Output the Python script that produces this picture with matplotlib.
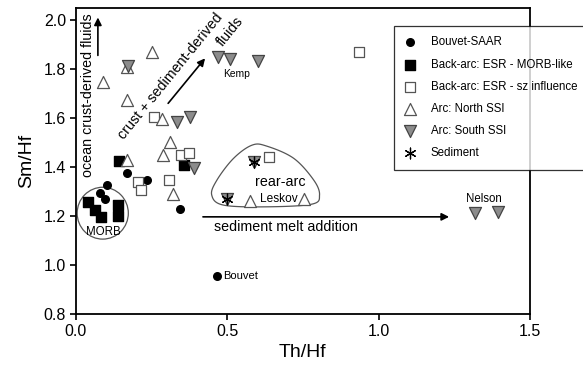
import numpy as np
import matplotlib
matplotlib.use("Agg")
import matplotlib.pyplot as plt
from matplotlib.patches import Ellipse, Polygon

plt.rcParams['font.family'] = ['Liberation Sans', 'DejaVu Sans']

## point data
bouvet_x = [0.170, 0.236, 0.102, 0.079, 0.096, 0.344, 0.468]
bouvet_y = [1.377, 1.347, 1.329, 1.293, 1.268, 1.229, 0.956]

morb_x = [0.143, 0.359, 0.041, 0.063, 0.082, 0.140, 0.140]
morb_y = [1.426, 1.408, 1.258, 1.224, 1.197, 1.245, 1.200]

sz_x = [0.937, 0.259, 0.206, 0.217, 0.308, 0.347, 0.374, 0.637]
sz_y = [1.871, 1.605, 1.340, 1.306, 1.347, 1.449, 1.458, 1.442]

north_x = [0.090, 0.168, 0.251, 0.168, 0.284, 0.311, 0.287, 0.170, 0.320, 0.574, 0.753]
north_y = [1.748, 1.810, 1.871, 1.673, 1.599, 1.501, 1.449, 1.431, 1.290, 1.261, 1.272]

south_x = [0.171, 0.471, 0.508, 0.602, 0.333, 0.377, 0.391, 0.587, 0.499, 1.319, 1.393]
south_y = [1.813, 1.850, 1.844, 1.834, 1.585, 1.605, 1.395, 1.422, 1.272, 1.211, 1.218]

sed_x = [0.587, 0.499]
sed_y = [1.422, 1.272]

x_ticks = [0.0, 0.5, 1.0, 1.5]
y_ticks = [0.8, 1.0, 1.2, 1.4, 1.6, 1.8, 2.0]

## outline of the rear-arc field
reararc_x = [0.582, 0.631, 0.720, 0.786, 0.805, 0.780, 0.631, 0.488, 0.449, 0.466, 0.521]
reararc_y = [1.490, 1.486, 1.436, 1.347, 1.286, 1.249, 1.238, 1.245, 1.286, 1.347, 1.436]


def closed_spline(xs, ys, n=25):
    # catmull-rom through the outline points, closed
    P = np.column_stack([xs, ys])
    k = len(P)
    out = []
    t = np.linspace(0, 1, n, endpoint=False)[:, None]
    for i in range(k):
        p0, p1, p2, p3 = P[i-1], P[i], P[(i+1) % k], P[(i+2) % k]
        out.append(0.5*((2*p1) + (-p0+p2)*t + (2*p0-5*p1+4*p2-p3)*t**2
                        + (-p0+3*p1-3*p2+p3)*t**3))
    return np.vstack(out)


fig = plt.figure(figsize=(5.83, 3.72), dpi=100)
ax = fig.add_axes([0.130, 0.156, 0.779, 0.822])

ax.scatter(bouvet_x, bouvet_y, s=30, marker='o', c='black', zorder=3, label='Bouvet-SAAR')
ax.scatter(morb_x, morb_y, s=60, marker='s', c='black', zorder=3, label='Back-arc: ESR - MORB-like')
ax.scatter(sz_x, sz_y, s=60, marker='s', facecolors='white', edgecolors='#555555',
           linewidths=0.9, zorder=3, label='Back-arc: ESR - sz influence')
ax.scatter(north_x, north_y, s=75, marker='^', facecolors='white', edgecolors='#555555',
           linewidths=0.9, zorder=3, label='Arc: North SSI')
ax.scatter(south_x, south_y, s=75, marker='v', facecolors='#8c8c8c', edgecolors='#444444',
           linewidths=0.9, zorder=3, label='Arc: South SSI')
ax.scatter(sed_x, sed_y, s=60, marker=(6, 2, 0), c='black', linewidths=0.9, zorder=4,
           label='Sediment')

# fields
ax.add_patch(Ellipse((0.089, 1.212), 0.169, 0.212, fill=False, ec='#555555', lw=0.9, zorder=2))
ra = closed_spline(reararc_x, reararc_y)
ax.add_patch(Polygon(ra, closed=True, fill=False, ec='#555555', lw=0.9, zorder=2))

# arrows
arw = dict(arrowstyle='-|>', mutation_scale=11, lw=1.2, color='black', shrinkA=0, shrinkB=0)
ax.annotate('', xy=(0.073, 2.012), xytext=(0.073, 1.857), arrowprops=arw)
ax.annotate('', xy=(0.427, 1.845), xytext=(0.305, 1.661), arrowprops=arw)
ax.annotate('', xy=(1.233, 1.197), xytext=(0.42, 1.197), arrowprops=arw)

# labels
ax.text(0.040, 1.694, 'ocean crust-derived fluids', rotation=90, ha='center', va='center',
        fontsize=10.3)
ax.text(0.314, 1.773, 'crust + sediment-derived', rotation=51, ha='center', va='center',
        rotation_mode='anchor', fontsize=10.3)
ax.text(0.510, 1.955, 'fluids', rotation=51, ha='center', va='center',
        rotation_mode='anchor', fontsize=10.3)
ax.text(0.455, 1.157, 'sediment melt addition', ha='left', va='center', fontsize=10.3)
ax.text(0.675, 1.340, 'rear-arc', ha='center', va='center', fontsize=10.3)
ax.text(0.670, 1.269, 'Leskov', ha='center', va='center', fontsize=8.6)
ax.text(0.53, 1.78, 'Kemp', ha='center', va='center', fontsize=7.4)
ax.text(0.090, 1.136, 'MORB', ha='center', va='center', fontsize=8.3)
ax.text(0.485, 0.956, 'Bouvet', ha='left', va='center', fontsize=8)
ax.text(1.349, 1.270, 'Nelson', ha='center', va='center', fontsize=8.3)

ax.set_xlim(0, 1.5)
ax.set_ylim(0.8, 2.05)
ax.set_xticks(x_ticks)
ax.set_yticks(y_ticks)
ax.set_xticklabels([f'{v:.1f}' for v in x_ticks])
ax.set_yticklabels([f'{v:.1f}' for v in y_ticks])
ax.tick_params(direction='out', length=4, width=1.2, labelsize=11.5, pad=3)
for s in ax.spines.values():
    s.set_linewidth(1.3)
ax.set_xlabel('Th/Hf', fontsize=14, labelpad=4)
ax.set_ylabel('Sm/Hf', fontsize=14, labelpad=6)

leg = ax.legend(loc='upper left', bbox_to_anchor=(0.676, 0.930), bbox_transform=fig.transFigure,
                fontsize=8.3, frameon=True, fancybox=False, borderpad=0.9, labelspacing=0.88,
                handlelength=1.0, handletextpad=1.3, borderaxespad=0)
leg.get_frame().set_edgecolor('black')
leg.get_frame().set_linewidth(0.9)
leg.set_zorder(10)

fig.savefig('out.png', dpi=100)
